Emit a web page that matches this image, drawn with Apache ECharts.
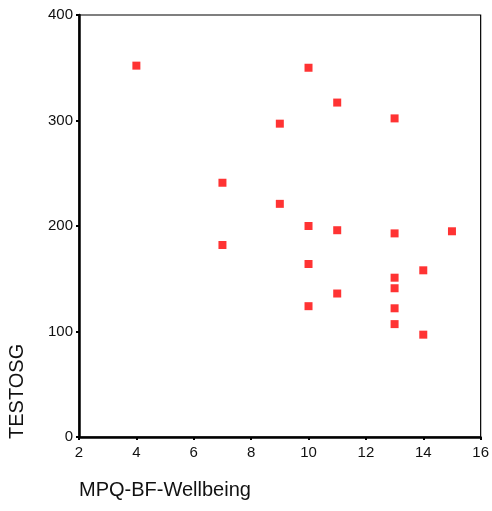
<!DOCTYPE html>
<html>
<head>
<meta charset="utf-8">
<script src="https://cdn.jsdelivr.net/npm/echarts@6/dist/echarts.min.js"></script>
<style>
  html, body { margin: 0; padding: 0; background: #fff; }
  #chart { width: 492px; height: 511px; }
</style>
</head>
<body>
<div id="chart"></div>
<script>
// MPQ-BF-Wellbeing (x) vs TESTOSG (y)
var wellbeing = [4, 10, 11, 13, 9, 7, 9, 10, 11, 13, 15, 7, 10, 14, 13, 13, 11, 10, 13, 13, 14];
var testosg = [352, 350, 317, 302, 297, 241, 221, 200, 196, 193, 195, 182, 164, 158, 151, 141, 136, 124, 122, 107, 97];

var xTicks = [2, 4, 6, 8, 10, 12, 14, 16];
var yTicks = [0, 100, 200, 300, 400];

var points = wellbeing.map(function (x, i) { return [x, testosg[i]]; });

var chartDom = document.getElementById('chart');
var myChart = echarts.init(chartDom);
var option;

var labelFont = {
    color: '#111',
    fontFamily: '"Liberation Sans", Arial, sans-serif',
    fontSize: 15
};

option = {
    animation: false,
    backgroundColor: '#fff',
    grid: {
        left: 79,
        top: 15,
        right: 9,
        bottom: 74,
        show: true,
        borderColor: '#000',
        borderWidth: 1.2
    },
    xAxis: {
        type: 'value',
        min: xTicks[0],
        max: xTicks[xTicks.length - 1],
        interval: 2,
        splitLine: { show: false },
        axisLine: { onZero: false, lineStyle: { color: '#000', width: 2.5 } },
        axisTick: { length: 3, lineStyle: { color: '#000', width: 2 } },
        axisLabel: Object.assign({ margin: 8 }, labelFont)
    },
    yAxis: {
        type: 'value',
        min: yTicks[0],
        max: yTicks[yTicks.length - 1],
        interval: 100,
        splitLine: { show: false },
        axisLine: { onZero: false, lineStyle: { color: '#000', width: 2.5 } },
        axisTick: { length: 3, lineStyle: { color: '#000', width: 2 } },
        axisLabel: Object.assign({ margin: 6 }, labelFont)
    },
    graphic: [
        {
            type: 'text',
            left: 79,
            top: 480,
            style: {
                text: 'MPQ-BF-Wellbeing',
                fill: '#111',
                font: '20px "Liberation Sans", Arial, sans-serif'
            }
        },
        {
            type: 'text',
            x: 7,
            y: 439,
            rotation: Math.PI / 2,
            style: {
                text: 'TESTOSG',
                fill: '#111',
                font: '20px "Liberation Sans", Arial, sans-serif',
                align: 'left',
                verticalAlign: 'top'
            }
        }
    ],
    series: [
        {
            name: 'TESTOSG',
            type: 'scatter',
            data: points,
            symbol: 'rect',
            symbolSize: 8,
            itemStyle: { color: '#ff0000' }
        }
    ]
};

option && myChart.setOption(option);
</script>
</body>
</html>
